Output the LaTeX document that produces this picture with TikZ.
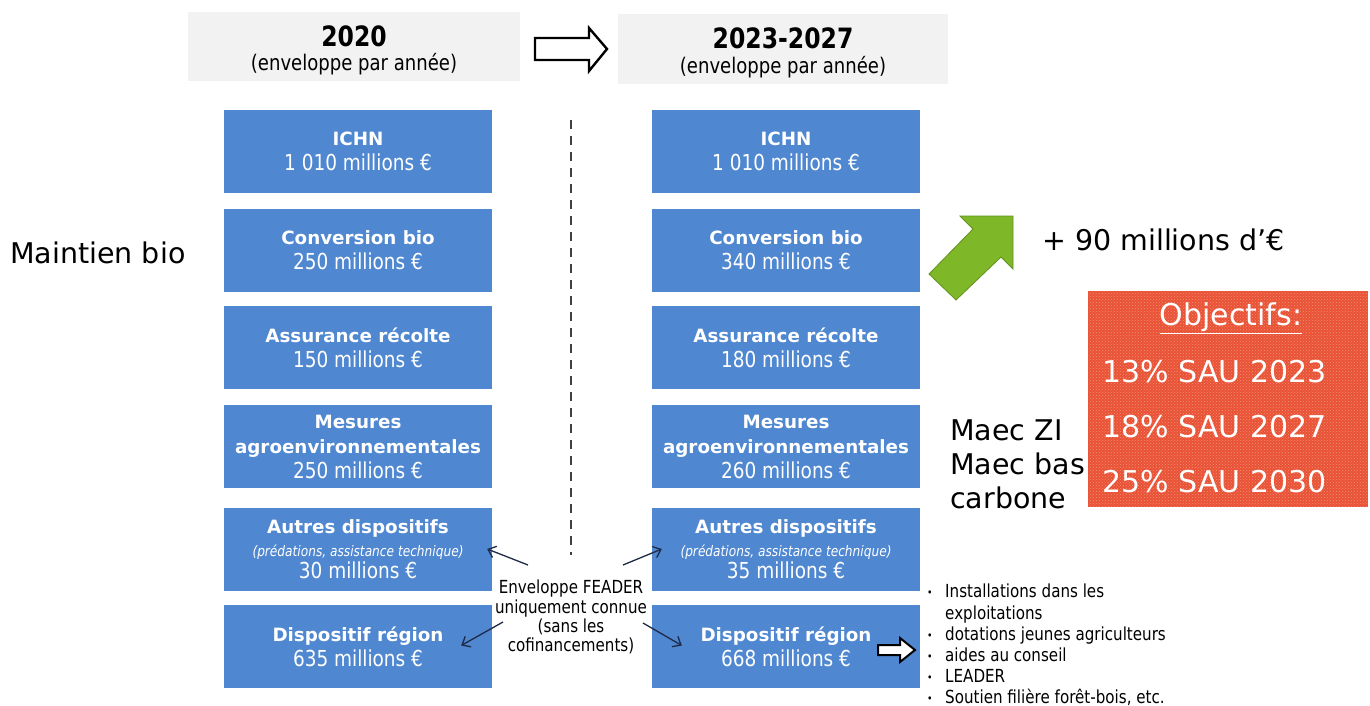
\documentclass[tikz,border=0pt]{standalone}
\usepackage{fontspec}
\setmainfont{DejaVu Sans}
\newfontfamily\etroit[FakeStretch=0.84]{DejaVu Sans}
\usetikzlibrary{positioning,arrows.meta,patterns}

\definecolor{bleubox}{RGB}{79,135,209}
\definecolor{grisbox}{RGB}{242,242,242}
\definecolor{rougeobj}{RGB}{233,82,52}
\definecolor{vertfl}{RGB}{126,183,40}
\definecolor{vertbord}{RGB}{98,145,30}
\definecolor{fleche}{RGB}{30,42,70}

\newcommand{\puce}{\makebox[18pt][l]{\raisebox{1pt}{\fontsize{11}{11}\selectfont\textbullet}}}
\newcommand{\val}[1]{{\etroit\fontsize{22}{25.5}\selectfont #1}}
\newcommand{\detailtxt}[1]{{\etroit\itshape\fontsize{14.5}{17}\selectfont #1}}

\tikzset{
  bloc/.style={fill=bleubox, minimum width=268pt, minimum height=83pt, inner sep=0pt,
    text=white, align=center, font=\fontsize{18.3}{25}\selectfont},
  entete/.style={fill=grisbox, minimum width=332pt, minimum height=69pt, inner sep=0pt},
  grand/.style={font=\fontsize{28.5}{34}\selectfont, inner sep=0pt},
  objtxt/.style={inner sep=0pt, text=white, font=\fontsize{30}{34}\selectfont},
  fl/.style={-{Straight Barb[length=7pt,width=12pt]}, draw=fleche, line width=1.3pt},
  creuse/.style={draw=black, fill=white, line join=miter}
}

\begin{document}
\begin{tikzpicture}[x=1pt,y=-1pt]
\useasboundingbox (0,0) rectangle (1370,706);
\fill[white] (0,0) rectangle (1370,706);

% en-tetes
\node (e1) [entete] at (354,46.5) {};
\node (e2) [entete, minimum width=330pt, minimum height=70pt] at (783,49) {};
\node (t1) [inner sep=0pt, font=\etroit\fontsize{28}{30}\selectfont\bfseries] at (354,36) {2020};
\node (s1) [inner sep=0pt, font=\etroit\fontsize{21.5}{24}\selectfont] at (354,64) {(enveloppe par année)};
\node (t2) [inner sep=0pt, font=\etroit\fontsize{28}{30}\selectfont\bfseries] at (783,38) {2023-2027};
\node (s2) [inner sep=0pt, font=\etroit\fontsize{21.5}{24}\selectfont] at (783,67) {(enveloppe par année)};
\draw [creuse, line width=2.4pt] (535,38) -- (589,38) -- (589,28) -- (607,49) -- (589,71) -- (589,60) -- (535,60) -- cycle;

% colonne 2020
\node (g1) [bloc] at (358,151.5) {\textbf{ICHN}\\\val{1 010 millions €}};
\node (g2) [bloc] at (358,250) {\textbf{Conversion bio}\\\val{250 millions €}};
\node (g3) [bloc] at (358,347.5) {\textbf{Assurance récolte}\\\val{150 millions €}};
\node (g4) [bloc] at (358,446.5) {\textbf{Mesures}\\\textbf{agroenvironnementales}\\\val{250 millions €}};
\node (g5) [bloc] at (358,549) {\textbf{Autres dispositifs}\\[-2pt]\detailtxt{(prédations, assistance technique)}\\[-3pt]\val{30 millions €}};
\node (g6) [bloc] at (358,646.5) {\textbf{Dispositif région}\\\val{635 millions €}};

% colonne 2023-2027
\node (d1) [bloc] at (786,151.5) {\textbf{ICHN}\\\val{1 010 millions €}};
\node (d2) [bloc] at (786,250) {\textbf{Conversion bio}\\\val{340 millions €}};
\node (d3) [bloc] at (786,347.5) {\textbf{Assurance récolte}\\\val{180 millions €}};
\node (d4) [bloc] at (786,446.5) {\textbf{Mesures}\\\textbf{agroenvironnementales}\\\val{260 millions €}};
\node (d5) [bloc] at (786,549) {\textbf{Autres dispositifs}\\[-2pt]\detailtxt{(prédations, assistance technique)}\\[-3pt]\val{35 millions €}};
\node (d6) [bloc] at (786,646.5) {\textbf{Dispositif région}\\\val{668 millions €}};

\draw [dashed, dash pattern=on 9pt off 7pt, line width=1.2pt, draw=black!75] (571,120) -- (571,555);

% enveloppe FEADER
\node (feader) [align=center, inner sep=0pt, font=\etroit\fontsize{18}{19.2}\selectfont] at (571,617)
  {Enveloppe FEADER\\uniquement connue\\(sans les\\cofinancements)};
\coordinate (fa1) at (528,565);
\coordinate (fa2) at (623,565);
\coordinate (fa3) at (503,622);
\coordinate (fa4) at (643,623);
\draw [fl] (fa1) -- ([xshift=-5pt]g5.east);
\draw [fl] (fa2) -- ([xshift=10pt]d5.west);
\draw [fl] (fa3) -- ([xshift=-31pt,yshift=1pt]g6.east);
\draw [fl] (fa4) -- ([xshift=30pt,yshift=1pt]d6.west);

% textes libres
\node (maintien) [grand, anchor=west] at (10,253) {Maintien bio};
\filldraw [fill=vertfl, draw=vertbord, line width=0.8pt, line join=miter]
  (1013,216) -- (960,216) -- (973,229) -- (929,274) -- (956,300) -- (1001,257) -- (1013,269) -- cycle;
\node (hausse) [grand, anchor=west] at (1042,240) {+ 90 millions d’€};
\node (maec) [grand, anchor=north west, align=left] at (950,420)
  {Maec ZI\\Maec bas\\carbone};

% objectifs
\node (obj) [fill=rougeobj, minimum width=280pt, minimum height=216pt, inner sep=0pt] at (1228,399) {};
\fill [pattern=crosshatch dots, pattern color=white, opacity=0.35] (obj.north west) rectangle (obj.south east);
\node (o0) [objtxt] at (1231,318) {\underline{Objectifs:}};
\node (o1) [objtxt, anchor=west] at (1102,372) {13\% SAU 2023};
\node (o2) [objtxt, anchor=west] at (1102,427) {18\% SAU 2027};
\node (o3) [objtxt, anchor=west] at (1102,482) {25\% SAU 2030};

% region
\draw [creuse, line width=2pt] (878,645) -- (900,645) -- (900,638) -- (915,650) -- (900,662) -- (900,655) -- (878,655) -- cycle;
\node (liste) [anchor=north west, align=left, inner sep=0pt, font=\etroit\fontsize{18}{21.2}\selectfont] at (927,584)
  {\puce Installations dans les\\\hspace*{18pt}exploitations\\\puce dotations jeunes agriculteurs\\\puce aides au conseil\\\puce LEADER\\\puce Soutien filière forêt-bois, etc.};
\end{tikzpicture}
\end{document}
